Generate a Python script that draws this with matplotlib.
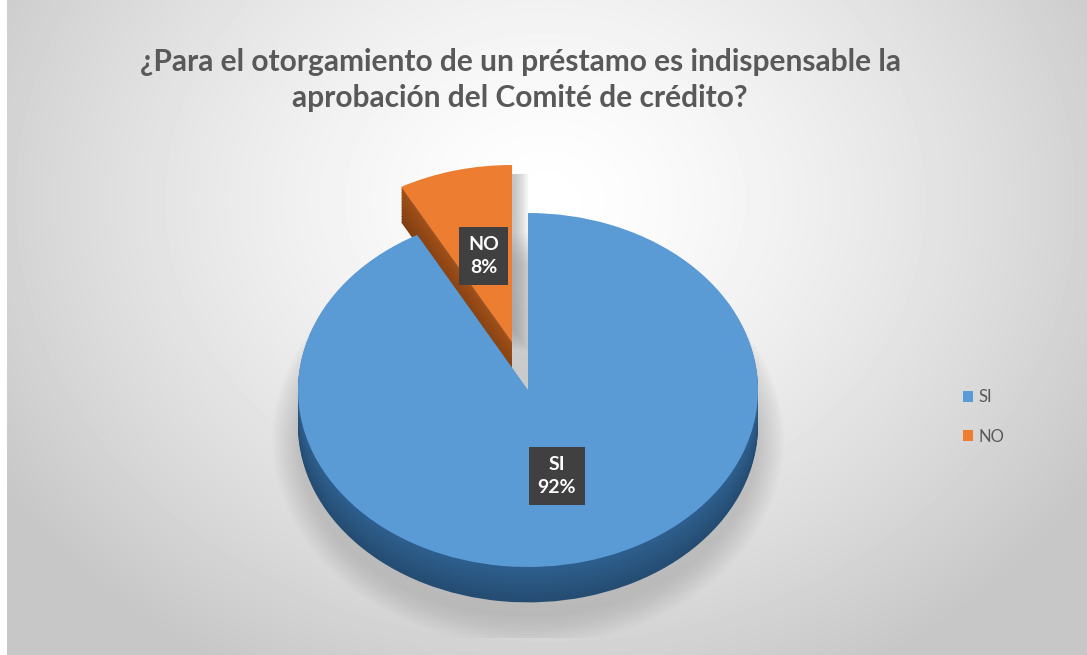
import numpy as np
import matplotlib.pyplot as plt
from matplotlib.patches import Ellipse
from matplotlib.colors import to_rgb

# respuestas de la encuesta
categorias = ['SI', 'NO']
porcentajes = [92, 8]
colores = ['#5b9bd5', '#ed7d31']
colores_lado = ['#2e5f8e', '#a14f17']
separacion = [0.0, 0.28]

titulo = '¿Para el otorgamiento de un préstamo es indispensable la\naprobación del Comité de crédito?'

W, H = 1087, 655
fig = plt.figure(figsize=(W / 100, H / 100), dpi=100)

# fondo con degradado radial, con franja blanca a la izquierda
bg = fig.add_axes([0, 0, 1, 1])
yy, xx = np.mgrid[0:H, 0:W]
r = np.sqrt(((xx - 545) / 600.0) ** 2 + ((yy - 200) / 500.0) ** 2)
shade = np.clip(1.0 - 0.2 * r ** 1.4, 0.78, 1.0)
shade[:, :7] = 1.0
bg.imshow(shade, cmap='gray', vmin=0, vmax=1, extent=[0, W, H, 0], aspect='auto')
bg.axis('off')

# ejes del pastel: radio 1 = 230 px en x, 177 px en y, centro en (528, 390)
rx, ry = 230.0, 177.0
cx, cy = 528.0, 390.0
x0, x1 = -1.5, 1.5
y0, y1 = -1.4, 1.6
left = cx + x0 * rx
bottom = H - (cy - y0 * ry)
ax = fig.add_axes([left / W, bottom / H, (x1 - x0) * rx / W, (y1 - y0) * ry / H])
ax.patch.set_alpha(0)

# sombra suave bajo el pastel
for k in range(12):
    ax.add_patch(Ellipse((0, -0.28), 2.0 + 0.02 * k, 2.0 + 0.03 * k,
                         fc='#8a8a8a', ec='none', alpha=0.035, zorder=0))

# canto lateral: capas apiladas desde abajo
prof = 0.2
capas = 24
for i, d in enumerate(np.linspace(prof, 0.005, capas)):
    f = 0.8 + 0.2 * i / (capas - 1)
    cols = [tuple(np.array(to_rgb(c)) * f) for c in colores_lado]
    ax.pie(porcentajes, colors=cols, startangle=90, counterclock=False,
           explode=separacion, center=(0, -d), radius=1,
           wedgeprops=dict(linewidth=0))

# sombra de la porcion separada sobre el hueco
for dx in np.linspace(0.015, 0.07, 6):
    ax.pie(porcentajes, colors=['none', '#7f7f7f'], startangle=90,
           counterclock=False, explode=separacion, center=(dx, -0.05),
           radius=1, wedgeprops=dict(linewidth=0, alpha=0.09))

# cara superior
wedges, textos, autotextos = ax.pie(
    porcentajes, colors=colores, startangle=90, counterclock=False,
    explode=separacion, radius=1, autopct='%1.0f%%', pctdistance=0.5,
    wedgeprops=dict(linewidth=0))

for t, cat, val in zip(autotextos, categorias, porcentajes):
    t.set_text(f'{cat}\n{val}%')
    t.set_fontsize(14)
    t.set_fontweight('bold')
    t.set_color('white')
    t.set_fontfamily('Lato')
    t.set_linespacing(1.45)
    t.set_bbox(dict(boxstyle='square,pad=0.45', fc='#404040', ec='none'))

ax.set_xlim(x0, x1)
ax.set_ylim(y0, y1)
ax.set_aspect('auto')
ax.axis('off')

fig.text(520 / W, 1 - 80 / H, titulo, ha='center', va='center', fontsize=21.5,
         fontweight='bold', color='#595959', family='Lato', linespacing=1.35)

# leyenda
leg = fig.legend(wedges, categorias, loc='center left',
                 bbox_to_anchor=(948 / W, 1 - 417 / H), frameon=False,
                 prop=dict(family='Lato', size=12), labelcolor='#595959',
                 handlelength=0.6, handleheight=0.6, handletextpad=0.35,
                 labelspacing=1.4)

fig.savefig('out.png', dpi=100)
